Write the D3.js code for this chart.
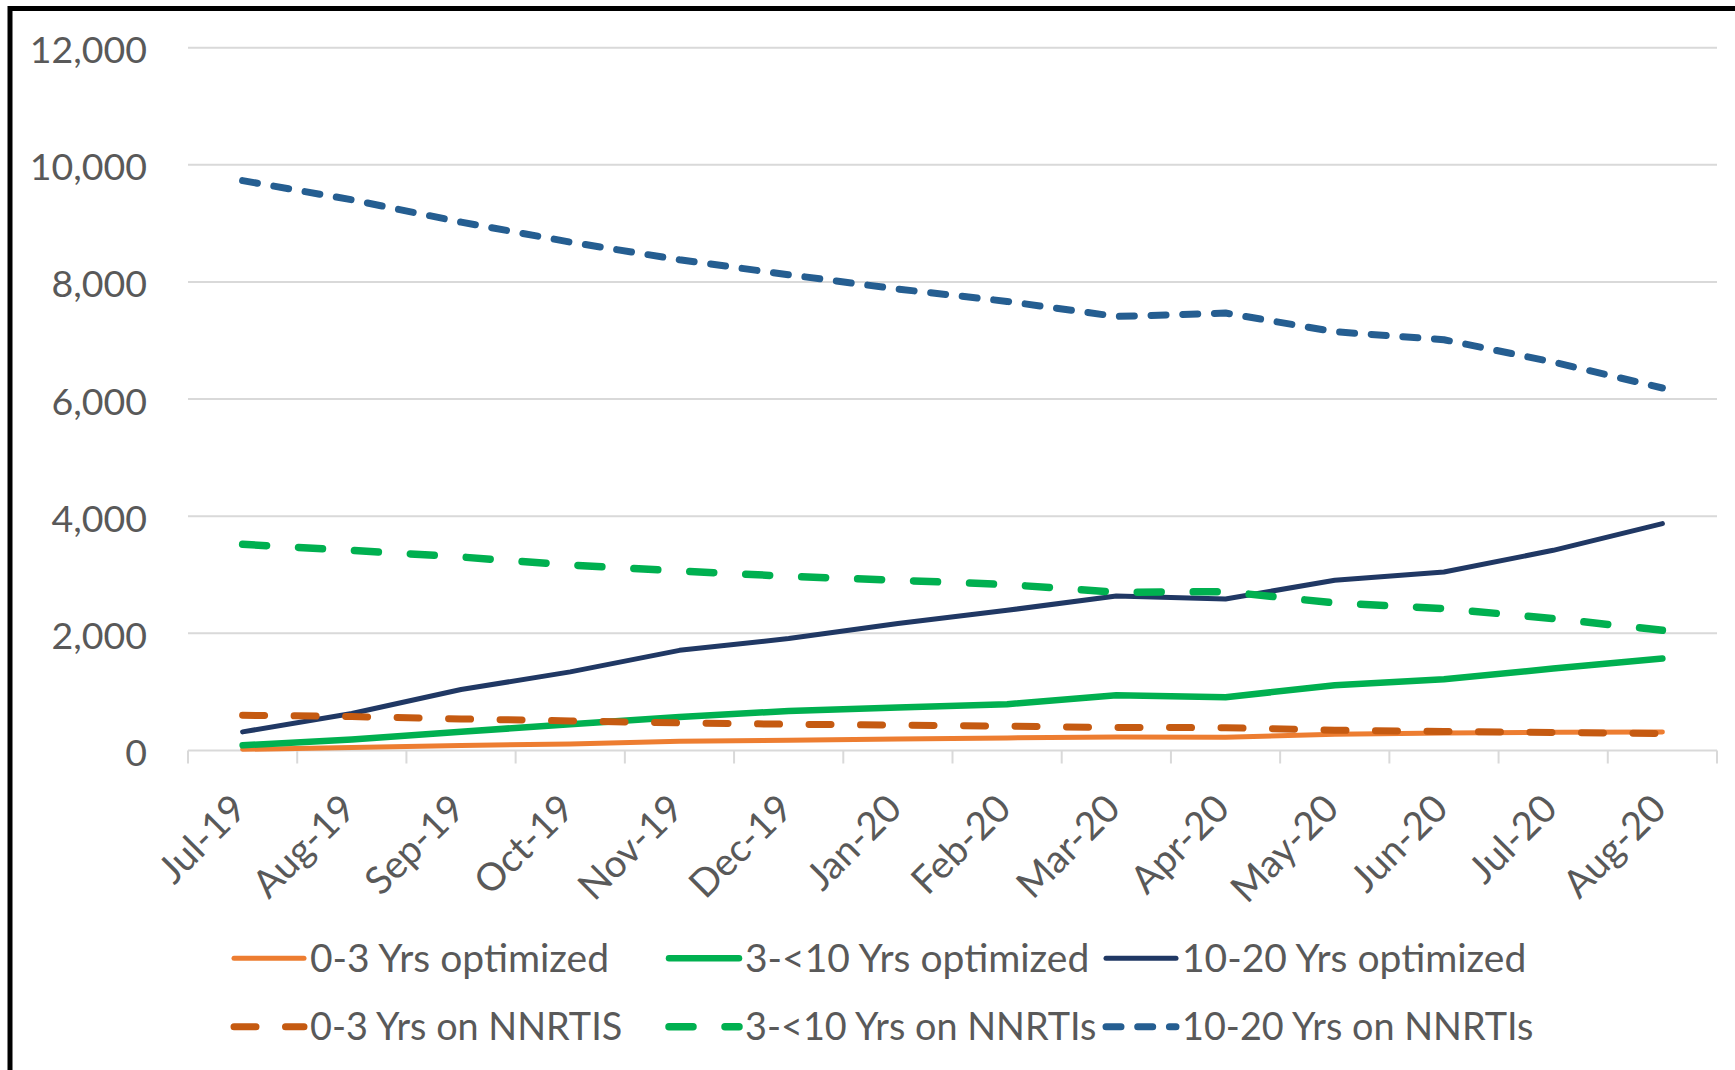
<!DOCTYPE html>
<html>
<head>
<meta charset="utf-8">
<script src="https://cdn.jsdelivr.net/npm/d3@7"></script>
<style>
  html, body { margin: 0; padding: 0; background: #fff; }
  svg { display: block; }
  text { font-family: Lato, "Open Sans", sans-serif; fill: #595959; }
</style>
</head>
<body>
<svg id="chart" width="1735" height="1070"></svg>
<script>
// Monthly categories
const months = ["Jul-19","Aug-19","Sep-19","Oct-19","Nov-19","Dec-19","Jan-20","Feb-20","Mar-20","Apr-20","May-20","Jun-20","Jul-20","Aug-20"];

// Patients on optimized regimens, by age band
const opt0to3   = [20, 50, 85, 113, 159, 176, 198, 215, 232, 228, 278, 300, 312, 317];
const opt3to10  = [90, 188, 320, 449, 573, 676, 734, 790, 944, 910, 1114, 1217, 1399, 1570];
const opt10to20 = [318, 631, 1041, 1342, 1710, 1911, 2167, 2394, 2638, 2588, 2906, 3048, 3418, 3874];

// Patients still on NNRTI-based regimens, by age band
const nnrti0to3   = [602, 580, 539, 505, 471, 449, 432, 415, 392, 390, 346, 324, 307, 290];
const nnrti3to10  = [3520, 3418, 3304, 3167, 3065, 2974, 2906, 2833, 2701, 2712, 2519, 2423, 2253, 2053];
const nnrti10to20 = [9730, 9403, 9022, 8681, 8379, 8123, 7879, 7668, 7411, 7469, 7150, 7014, 6633, 6190];

// Y axis tick values
const yTicks = [0, 2000, 4000, 6000, 8000, 10000, 12000];

const series = [
  { name: "0-3 Yrs optimized",    values: opt0to3,     color: "#ED7D31", width: 5,   dash: null },
  { name: "3-<10 Yrs optimized",  values: opt3to10,    color: "#00B050", width: 6.5, dash: null },
  { name: "10-20 Yrs optimized",  values: opt10to20,   color: "#203864", width: 5,   dash: null },
  { name: "0-3 Yrs on NNRTIS",    values: nnrti0to3,   color: "#C55A11", width: 7,   dash: "22,29.5" },
  { name: "3-<10 Yrs on NNRTIs",  values: nnrti3to10,  color: "#00B050", width: 7.5, dash: "24,32" },
  { name: "10-20 Yrs on NNRTIs",  values: nnrti10to20, color: "#255E91", width: 7,   dash: "15,16.7" }
];

const svg = d3.select("#chart");

const plot = { left: 188, right: 1717, top: 47.7, bottom: 750.5 };

const x = d3.scaleBand().domain(months).range([plot.left, plot.right]).paddingInner(0).paddingOuter(0);
const y = d3.scaleLinear().domain([0, 12000]).range([plot.bottom, plot.top]);
const fmt = d3.format(",");

// Gridlines
svg.append("g").selectAll("line").data(yTicks.filter(d => d > 0)).join("line")
  .attr("x1", plot.left).attr("x2", plot.right)
  .attr("y1", d => y(d)).attr("y2", d => y(d))
  .attr("stroke", "#D9D9D9").attr("stroke-width", 2);

// Y axis labels
const yAxis = d3.axisLeft(y).tickValues(yTicks).tickFormat(fmt).tickSize(0).tickPadding(0);
const gy = svg.append("g").attr("transform", `translate(147,0)`).call(yAxis);
gy.select(".domain").remove();
gy.selectAll("text")
  .attr("font-family", "Lato, 'Open Sans', sans-serif")
  .attr("font-size", 37.5).attr("fill", "#595959")
  .attr("dy", null).attr("dominant-baseline", "central").attr("y", 0.5);

// X axis: baseline with boundary ticks
const xAxis = d3.axisBottom(x).tickSize(0).tickFormat("");
const gx = svg.append("g").attr("transform", `translate(0,${plot.bottom})`).call(xAxis);
gx.select(".domain").attr("stroke", "#D9D9D9").attr("stroke-width", 2)
  .attr("d", `M${plot.left},0H${plot.right}`);
gx.selectAll(".tick").remove();
const bounds = months.map(m => x(m)).concat([plot.right]);
gx.selectAll("line.bound").data(bounds).join("line").attr("class", "bound")
  .attr("x1", d => d).attr("x2", d => d).attr("y1", 0).attr("y2", 13)
  .attr("stroke", "#D9D9D9").attr("stroke-width", 2);

// Rotated month labels
svg.append("g").selectAll("text").data(months).join("text")
  .attr("transform", d => `translate(${x(d) + x.bandwidth() / 2 + 6},811) rotate(-45)`)
  .attr("text-anchor", "end")
  .attr("font-size", 38.5)
  .text(d => d);

// Series lines
const line = d3.line()
  .x((d, i) => x(months[i]) + x.bandwidth() / 2)
  .y(d => y(d));

svg.append("g").selectAll("path").data(series).join("path")
  .attr("d", s => line(s.values))
  .attr("fill", "none")
  .attr("stroke", s => s.color)
  .attr("stroke-width", s => s.width)
  .attr("stroke-linejoin", "round")
  .attr("stroke-linecap", "round")
  .attr("stroke-dasharray", s => s.dash);

// Legend: two rows of three entries
const legendCols = [234, 669, 1106];
const legendRows = [958.3, 1026.7];
const legendFont = [39, 37.8];
const legend = svg.append("g").selectAll("g").data(series).join("g")
  .attr("transform", (s, i) => `translate(${legendCols[i % 3]},${legendRows[Math.floor(i / 3)]})`);
legend.append("line")
  .attr("x1", 0).attr("x2", 70).attr("y1", 0).attr("y2", 0)
  .attr("stroke", s => s.color)
  .attr("stroke-width", s => s.width)
  .attr("stroke-linecap", "round")
  .attr("stroke-dasharray", s => s.dash);
legend.append("text")
  .attr("x", 76).attr("y", 13.6)
  .attr("font-size", (s, i) => legendFont[Math.floor(i / 3)])
  .text(s => s.name);

// Outer frame
svg.append("rect")
  .attr("x", 10).attr("y", 8.5).attr("width", 1800).attr("height", 1200)
  .attr("fill", "none").attr("stroke", "#000").attr("stroke-width", 5);
</script>
</body>
</html>
